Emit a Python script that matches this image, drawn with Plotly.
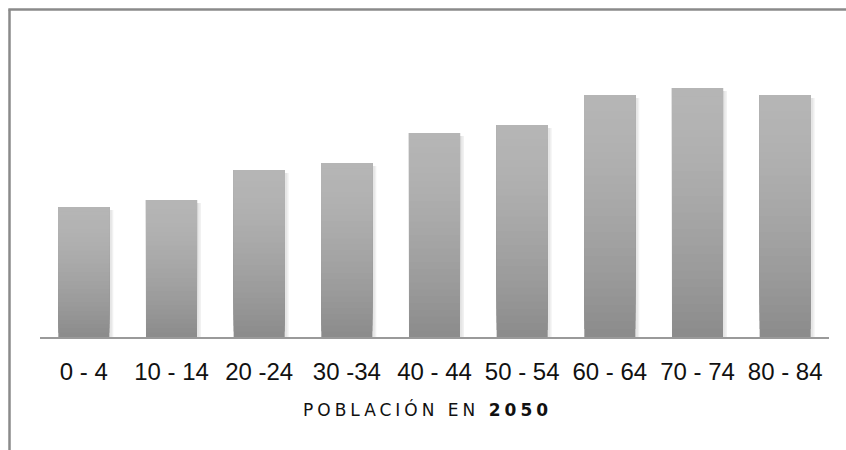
import plotly.graph_objects as go

categories = ["0 - 4", "10 - 14", "20 -24", "30 -34", "40 - 44", "50 - 54", "60 - 64", "70 - 74", "80 - 84"]
values = [130, 137, 167, 174, 204, 212, 242, 249, 242]
title_text = "población en <b>2050</b>"

W, H = 846, 450
ml, mr, mt, mb = 40, 17, 37, 113
bar_w = 0.582
pw, ph = W - ml - mr, H - mt - mb

fig = go.Figure()

# soft shadow to the right of each bar
for dx, col in [(0.045, "#f1f1f1"), (0.028, "#e6e6e6")]:
    fig.add_trace(go.Bar(
        x=categories, y=[v - 3 for v in values], base=0,
        width=bar_w, offset=-bar_w / 2 + dx,
        marker=dict(color=col, line=dict(width=0)),
        hoverinfo="skip", showlegend=False,
    ))

# gradient fill: stacked overlays from dark (bottom) to light (top)
K = 30
top_rgb, bot_rgb = 181, 139
for k in range(K):
    frac_from_top = 1 - (k + 0.5) / K
    c = round(top_rgb - (top_rgb - bot_rgb) * frac_from_top ** 1.5)
    base = [v * k / K for v in values]
    hgt = [v - b for v, b in zip(values, base)]
    fig.add_trace(go.Bar(
        x=categories, y=hgt, base=base,
        width=bar_w, offset=-bar_w / 2,
        marker=dict(color=f"rgb({c},{c},{c})", line=dict(width=0)),
        hoverinfo="skip", showlegend=False,
    ))

bx0 = (9.5 - ml) / pw
bx1 = (W + 20 - ml) / pw
by_top = (H - 9.5 - mb) / ph
by_bot = (mb - (H + 20)) / ph

fig.update_layout(
    width=W, height=H,
    margin=dict(l=ml, r=mr, t=mt, b=mb),
    paper_bgcolor="white", plot_bgcolor="white",
    barmode="overlay",
    xaxis=dict(
        type="category", showline=True, linecolor="#9a9a9a", linewidth=2,
        showgrid=False, zeroline=False, ticks="",
        tickfont=dict(family="Liberation Sans", size=24, color="#111"),
        ticklabelstandoff=12,
    ),
    yaxis=dict(range=[0, 300], visible=False, showgrid=False, zeroline=False),
    shapes=[
        dict(type="line", xref="paper", yref="paper", x0=bx0 - 0.0015, x1=bx1, y0=by_top, y1=by_top,
             line=dict(color="#8a8a8a", width=2.5), layer="above"),
        dict(type="line", xref="paper", yref="paper", x0=bx0, x1=bx0, y0=by_top, y1=by_bot,
             line=dict(color="#8a8a8a", width=2.5), layer="above"),
    ],
    annotations=[dict(
        text=f'<span style="letter-spacing:4px">{title_text}</span>',
        xref="paper", yref="paper",
        x=(427 - ml) / pw, y=-(409 - (H - mb)) / ph,
        xanchor="center", yanchor="middle", showarrow=False,
        font=dict(family="DejaVu Sans", size=17, color="#111", textcase="upper"),
    )],
)

fig.write_html("out.html")
